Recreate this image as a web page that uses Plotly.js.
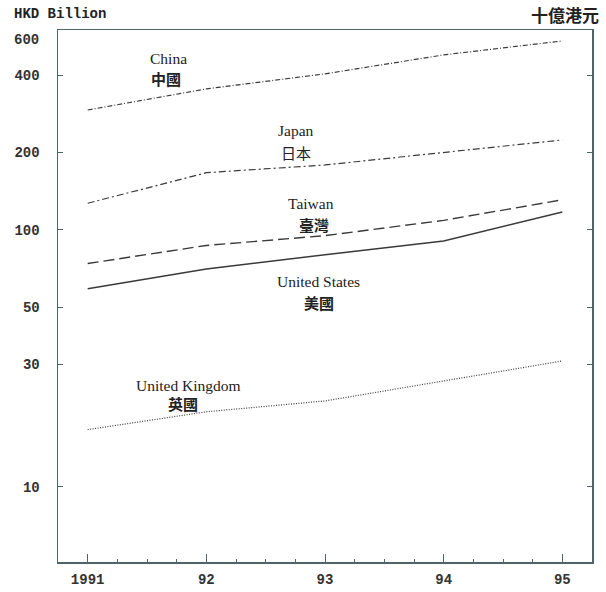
<!DOCTYPE html>
<html>
<head>
<meta charset="utf-8">
<script src="https://cdn.plot.ly/plotly-3.0.1.min.js"></script>
<style>html,body{margin:0;padding:0;background:#fff;}#chart{width:606px;height:592px;}</style>
</head>
<body>
<div id="chart"></div>
<script>
// ---- data ----
const years = [1991, 1992, 1993, 1994, 1995];
const yearLabels = ["1991", "92", "93", "94", "95"];
const china = [293, 354, 405, 480, 544];
const japan = [127, 167, 179, 200, 224];
const taiwan = [74, 87, 95, 109, 131];
const unitedStates = [59, 70.5, 80, 90.6, 117.5];
const unitedKingdom = [16.7, 19.6, 21.6, 25.9, 30.9];
const yTickVals = [10, 30, 50, 100, 200, 400, 600];
const yTickText = ["10", "30", "50", "100", "200", "400", "600"];

const W = 606, H = 592;
const M = {l: 58, r: 14, t: 30, b: 30};
const px = x => (x - M.l) / (W - M.l - M.r);
const py = y => (H - M.b - y) / (H - M.t - M.b);

const lineColor = '#3a3a3a';
function tr(name, y, dash, width) {
  return {x: years, y: y, name: name, type: 'scatter', mode: 'lines',
          line: {color: lineColor, width: width || 1.3, dash: dash}, hoverinfo: 'skip'};
}
const data = [
  tr('China', china, '5px,2px,1px,2px', 1.2),
  tr('Japan', japan, '7px,3px,2px,3px', 1.2),
  tr('Taiwan', taiwan, '11px,5px', 1.4),
  tr('United States', unitedStates, 'solid', 1.5),
  tr('United Kingdom', unitedKingdom, '1px,1.5px', 1.2)
];

const serif = 'Liberation Serif, Times New Roman, serif';
const cjk = 'Noto Sans CJK TC, Noto Sans CJK SC, sans-serif';
function lab(text, x, y, font, size, anchor, weight) {
  return {text: text, xref: 'paper', yref: 'paper', x: px(x), y: py(y),
          xanchor: anchor || 'left', yanchor: 'middle', showarrow: false,
          font: {family: font, size: size, color: '#222', weight: weight || 'normal'}};
}
const axisColor = '#4f6464';
const tickFont = {family: 'Liberation Mono, monospace', size: 14, color: '#333', weight: 'bold'};

// top tick label (600) is printed slightly below the frame in the original
const topLabel = yTickText[yTickText.length - 1];
const shownTickText = yTickText.map((t, i) => i === yTickText.length - 1 ? '' : t);

const annotations = [
  lab('HKD Billion', 12, 14, 'Liberation Mono, monospace', 14, 'left', 'bold'),
  lab('十億港元', 601, 15, cjk, 17, 'right', 'bold'),
  lab('China', 148, 58, serif, 15.5),
  lab('中國', 149, 78, cjk, 15, 'left', 'bold'),
  lab('Japan', 276, 130, serif, 15.5),
  lab('日本', 279, 152, cjk, 15),
  lab('Taiwan', 286, 204, serif, 15.5),
  lab('臺灣', 297, 225, cjk, 15, 'left', 'bold'),
  lab('United States', 275, 281, serif, 15.5),
  lab('美國', 302, 303, cjk, 15, 'left', 'bold'),
  lab('United Kingdom', 134, 385, serif, 15.5),
  lab('英國', 166, 404, cjk, 15, 'left', 'bold'),
  Object.assign(lab(topLabel, 41, 40, 'Liberation Mono, monospace', 14, 'right', 'bold'), {font: tickFont})
];

const layout = {
  width: W, height: H,
  margin: M,
  paper_bgcolor: '#fff', plot_bgcolor: '#fff',
  showlegend: false,
  xaxis: {
    range: [1990.75, 1995.25],
    tickvals: years, ticktext: yearLabels,
    ticks: 'inside', ticklen: 8, tickwidth: 1, tickcolor: axisColor,
    showline: true, linecolor: axisColor, linewidth: 1.5, mirror: true,
    showgrid: false, zeroline: false,
    tickfont: tickFont, ticklabelstandoff: 4,
    minor: {dtick: 0.25, tick0: 1991, ticks: 'inside', ticklen: 3, tickcolor: axisColor, showgrid: false}
  },
  yaxis: {
    type: 'log',
    range: [Math.log10(5.1), Math.log10(600)],
    tickvals: yTickVals, ticktext: shownTickText,
    ticks: 'inside', ticklen: 5, tickwidth: 1, tickcolor: axisColor,
    showline: true, linecolor: axisColor, linewidth: 1.5, mirror: 'ticks',
    showgrid: false, zeroline: false,
    tickfont: tickFont, ticklabelstandoff: 14
  },
  annotations: annotations
};
Plotly.newPlot('chart', data, layout, {staticPlot: true, displayModeBar: false});
</script>
</body>
</html>
